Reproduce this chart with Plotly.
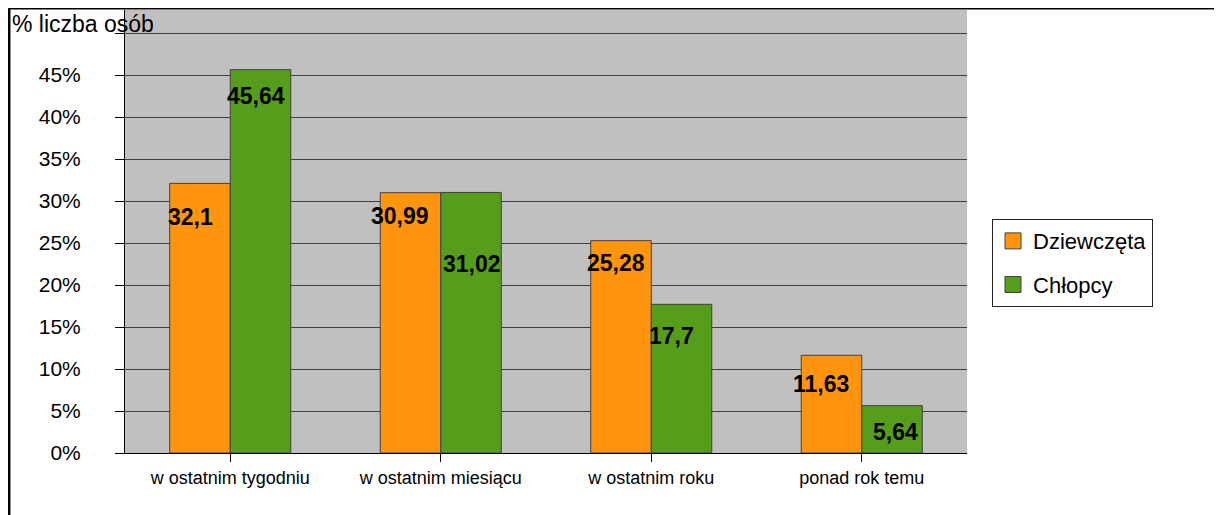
import plotly.graph_objects as go

categories = ["w ostatnim tygodniu", "w ostatnim miesiącu", "w ostatnim roku", "ponad rok temu"]
girls = [32.1, 30.99, 25.28, 11.63]
boys = [45.64, 31.02, 17.7, 5.64]
series_names = ["Dziewczęta", "Chłopcy"]
y_tick_vals = [0, 5, 10, 15, 20, 25, 30, 35, 40, 45, 50]
y_tick_text = ["0%", "5%", "10%", "15%", "20%", "25%", "30%", "35%", "40%", "45%", ""]
y_axis_title = "% liczba osób"

# label placement styling (pixel offsets relative to bar top/category centre)
girls_label_dx = [-40, -41, -35, -41]
girls_label_dy = [-34, -23, -22, -29]
boys_label_dx = [26, 31, 20, 34]
boys_label_dy = [-26, -72, -32, -26]

ORANGE = "#FF950E"
GREEN = "#579D1C"
EDGE = "#404040"
FONT = "Liberation Sans, Arial, sans-serif"

fig = go.Figure()
fig.add_trace(go.Bar(x=categories, y=[v / 100 for v in girls], name=series_names[0],
                     marker=dict(color=ORANGE, line=dict(color=EDGE, width=1)),
                     showlegend=False))
fig.add_trace(go.Bar(x=categories, y=[v / 100 for v in boys], name=series_names[1],
                     marker=dict(color=GREEN, line=dict(color=EDGE, width=1)),
                     showlegend=False))
# legend entries with larger square swatches
for name, col, grp in [(series_names[0], ORANGE, "a"), (series_names[1], GREEN, "b")]:
    fig.add_trace(go.Scatter(x=[None], y=[None], mode="markers", name=name, legendgroup=grp,
                             marker=dict(symbol="square", size=16, color=col,
                                         line=dict(color=EDGE, width=1))))

annotations = []
for vals, dxs, dys in [(girls, girls_label_dx, girls_label_dy), (boys, boys_label_dx, boys_label_dy)]:
    for c, v, dx, dy in zip(categories, vals, dxs, dys):
        annotations.append(dict(x=c, y=v / 100, xref="x", yref="y", text=str(v).replace(".", ","),
                                showarrow=False, xshift=dx, yshift=dy, xanchor="center", yanchor="middle",
                                font=dict(family=FONT, size=23, color="black", weight="bold")))
annotations.append(dict(x=-0.1366, y=0.968, xref="paper", yref="paper", text=y_axis_title,
                        showarrow=False, xanchor="left", yanchor="middle",
                        font=dict(family=FONT, size=23, color="black")))

fig.update_layout(
    width=1214, height=507,
    margin=dict(l=117, r=255, t=2, b=62),
    paper_bgcolor="white", plot_bgcolor="#C0C0C0",
    barmode="group", bargap=0.425, bargroupgap=0,
    font=dict(family=FONT, color="black"),
    annotations=annotations,
    legend=dict(x=1.0297, y=0.528, xanchor="left", yanchor="top",
                bgcolor="white", bordercolor="#222222", borderwidth=1,
                font=dict(family=FONT, size=22, color="black"),
                traceorder="grouped", tracegroupgap=12),
    shapes=[
        dict(type="line", xref="paper", yref="paper", x0=-0.1378, x1=1.30, y0=1.0045, y1=1.0045,
             line=dict(color="black", width=3)),
        dict(type="line", xref="paper", yref="paper", x0=-0.1378, x1=-0.1378, y0=1.0045, y1=-0.2,
             line=dict(color="black", width=3)),
        dict(type="line", xref="paper", yref="paper", x0=1.298, x1=1.298, y0=1.0045, y1=-0.2,
             line=dict(color="#808080", width=2)),
    ],
)
fig.update_xaxes(showgrid=False, showline=True, linecolor="black", linewidth=1,
                 ticks="outside", ticklen=8, tickcolor="black",
                 tickfont=dict(family=FONT, size=18, color="black"))
fig.update_yaxes(range=[0, 0.5274], tickvals=[v / 100 for v in y_tick_vals], ticktext=y_tick_text,
                 showgrid=True, gridcolor="#404040", gridwidth=1,
                 showline=True, linecolor="black", linewidth=1, zeroline=False,
                 ticks="outside", ticklen=9, tickcolor="black", ticklabelstandoff=30,
                 tickfont=dict(family=FONT, size=21, color="black"))

fig.write_html("out.html")
